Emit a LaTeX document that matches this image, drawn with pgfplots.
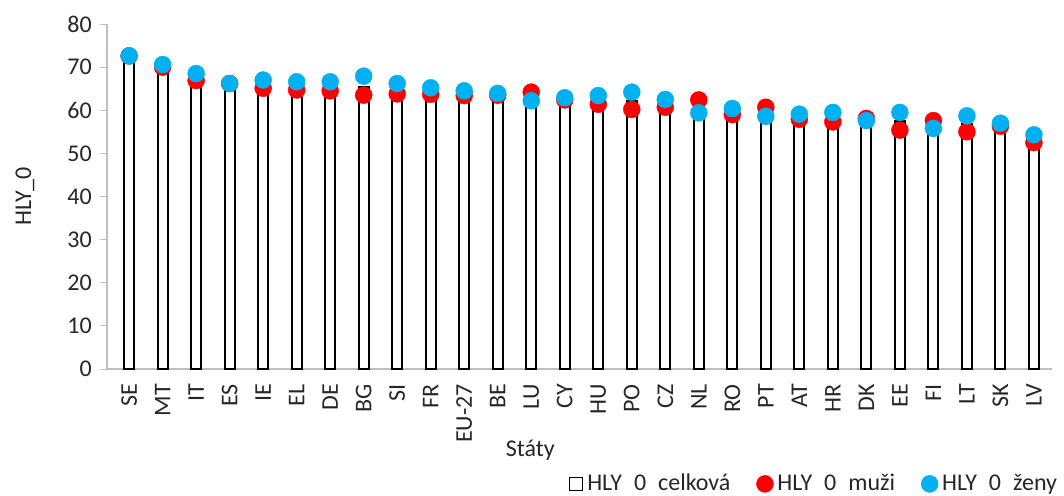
\documentclass[border=0pt]{standalone}
\usepackage{fontspec}
\setmainfont{Carlito}
\usepackage{pgfplots}
\usepackage{pgfplotstable}
\pgfplotsset{compat=1.18}

\definecolor{axisgray}{RGB}{191,191,191}
\definecolor{txt}{RGB}{38,38,38}
\definecolor{muzi}{RGB}{255,0,0}
\definecolor{zeny}{RGB}{0,176,240}

% HLY_0 by state: total, men, women
\pgfplotstableread{
idx state total muzi zeny
0  SE    72.7 72.6 72.6
1  MT    70.3 70.0 70.6
2  IT    67.5 66.9 68.5
3  ES    66.2 66.2 66.2
4  IE    65.5 65.1 67.0
5  EL    65.0 64.7 66.6
6  DE    65.0 64.5 66.6
7  BG    65.4 63.5 67.9
8  SI    64.9 63.8 66.2
9  FR    64.4 63.7 65.2
10 EU-27 64.0 63.4 64.5
11 BE    63.7 63.5 63.9
12 LU    63.2 64.2 62.2
13 CY    62.7 62.4 62.9
14 HU    62.4 61.4 63.4
15 PO    62.2 60.2 64.2
16 CZ    61.6 60.7 62.5
17 NL    60.9 62.4 59.4
18 RO    59.7 59.0 60.4
19 PT    59.6 60.7 58.6
20 AT    58.5 57.9 59.1
21 HR    58.4 57.3 59.5
22 DK    57.9 58.1 57.6
23 EE    57.5 55.4 59.5
24 FI    56.7 57.6 55.8
25 LT    56.7 55.0 58.7
26 SK    56.6 56.3 57.0
27 LV    53.4 52.5 54.3
}\hly

\newcommand{\gap}{\hspace{0.5em}}

\begin{document}
\fontsize{24}{29}\selectfont
\begin{tikzpicture}
\useasboundingbox (-107pt,-126pt) rectangle (957pt,369pt);
\begin{axis}[
  at={(0,0)}, anchor=south west,
  scale only axis,
  width=945pt, height=345pt,
  xmin=-0.66, xmax=27.54,
  ymin=0, ymax=80,
  ytick={0,10,...,80},
  xtick=data,
  xticklabels from table={\hly}{state},
  xticklabel style={rotate=90, anchor=east, text=txt},
  yticklabel style={text=txt},
  major x tick style={draw=none},
  tick align=outside,
  major tick length=7pt,
  every tick/.style={axisgray, line width=1pt},
  axis x line*=bottom,
  axis y line*=left,
  axis line style={axisgray, line width=1.2pt, -},
  /pgf/number format/assume math mode=true,
  xlabel={Státy},
  ylabel={HLY\_0},
  xlabel style={at={(axis description cs:0.448,0)}, anchor=center, yshift=-81pt, text=txt},
  ylabel style={at={(axis description cs:-0.0868,0.5)}, anchor=center, text=txt},
  clip=false,
  legend columns=3,
  legend style={draw=none, fill=none, at={(axis description cs:0.748,-0.333)}, anchor=center,
    /tikz/every odd column/.append style={column sep=2pt},
    /tikz/every even column/.append style={column sep=24pt},
    font=\fontsize{24}{29}\selectfont, text=txt},
]
\addplot[ybar, bar width=10pt, fill=white, draw=black, line width=2pt,
  legend image code/.code={\draw[black, fill=white, line width=1.6pt] (0pt,-6.5pt) rectangle (13pt,6.5pt);}]
  table[x=idx, y=total] {\hly};
\addlegendentry{HLY\gap 0\gap celková}
\addplot[only marks, mark=*, mark size=8.5pt, color=muzi, mark options={draw=muzi, fill=muzi}]
  table[x=idx, y=muzi] {\hly};
\addlegendentry{HLY\gap 0\gap muži}
\addplot[only marks, mark=*, mark size=8.5pt, color=zeny, mark options={draw=zeny, fill=zeny}]
  table[x=idx, y=zeny] {\hly};
\addlegendentry{HLY\gap 0\gap ženy}
\end{axis}
\end{tikzpicture}
\end{document}
